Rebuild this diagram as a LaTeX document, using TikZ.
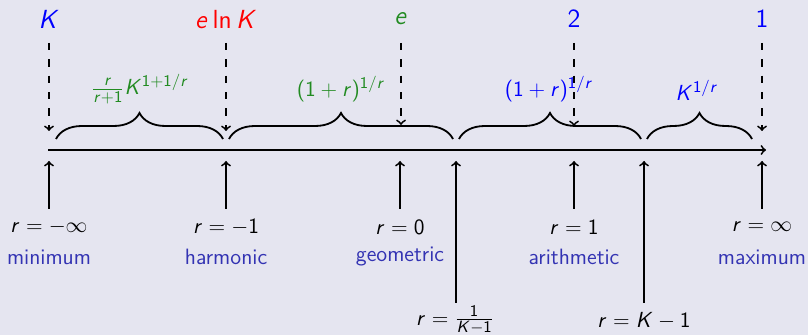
\documentclass[tikz,border=0pt]{standalone}
\usetikzlibrary{decorations.pathreplacing}
\DeclareSymbolFont{sfit}{OT1}{cmss}{m}{sl}
\SetSymbolFont{operators}{normal}{OT1}{cmss}{m}{n}
\DeclareMathSymbol{r}{\mathalpha}{sfit}{`r}
\DeclareMathSymbol{K}{\mathalpha}{sfit}{`K}
\DeclareMathSymbol{e}{\mathalpha}{sfit}{`e}
\definecolor{bgcol}{RGB}{229,229,240}
\definecolor{fgreen}{RGB}{34,139,34}
\definecolor{structcol}{RGB}{51,51,179}
\begin{document}
\begin{tikzpicture}[x=0.55pt,y=-0.55pt,
  every node/.style={font=\sffamily},
  axisline/.style={line width=1pt,->},
  dasharrow/.style={line width=1pt,dash pattern=on 4pt off 5pt,->},
  bracepath/.style={line width=1pt,decorate,decoration={brace,amplitude=14.3pt}},
  toplabel/.style={font=\sffamily\fontsize{14.4}{17}\selectfont},
  bracelabel/.style={font=\sffamily\fontsize{13}{15}\selectfont},
  rlabel/.style={font=\sffamily\fontsize{12.2}{14}\selectfont},
  meanlabel/.style={font=\sffamily\fontsize{12.2}{14}\selectfont,text=structcol}]
\fill[bgcol] (0,0) rectangle (808,335);
\useasboundingbox (0,0) rectangle (808,335);

% top labels
\node[toplabel,text=blue]   (tK)  at (49,19)  {$K$};
\node[toplabel,text=red]    (tL)  at (226,19) {$e\ln K$};
\node[toplabel,text=fgreen] (tE)  at (401,19) {$e$};
\node[toplabel,text=blue]   (t2)  at (574,19) {$2$};
\node[toplabel,text=blue]   (t1)  at (762,19) {$1$};

\coordinate (dtop) at (0,43);
\coordinate (eK) at (49,131);
\coordinate (eL) at (226,131);
\coordinate (eE) at (401,125);
\coordinate (e2) at (574,126);
\coordinate (e1) at (762,131);
\draw[dasharrow] (tK |- dtop) -- (eK);
\draw[dasharrow] (tL |- dtop) -- (eL);
\draw[dasharrow] (tE |- dtop) -- (eE);
\draw[dasharrow] (t2 |- dtop) -- (e2);
\draw[dasharrow] (t1 |- dtop) -- (e1);

% axis
\coordinate (ax0) at (48,150);
\coordinate (ax1) at (766,150);
\draw[axisline] (ax0) -- (ax1);

% braces
\coordinate (b1a) at (56,139);  \coordinate (b1b) at (223,139);
\coordinate (b2a) at (229,139); \coordinate (b2b) at (453,139);
\coordinate (b3a) at (459,139); \coordinate (b3b) at (641,139);
\coordinate (b4a) at (647,139); \coordinate (b4b) at (752,139);
\draw[bracepath] (b1a) -- (b1b);
\draw[bracepath] (b2a) -- (b2b);
\draw[bracepath] (b3a) -- (b3b);
\draw[bracepath] (b4a) -- (b4b);
\node[bracelabel,text=fgreen] (l1) at (140,89) {$\frac{r}{r+1}K^{1+1/r}$};
\node[bracelabel,text=fgreen] (l2) at (341,89) {$(1+r)^{1/r}$};
\node[bracelabel,text=blue]   (l3) at (549,89) {$(1+r)^{1/r}$};
\node[bracelabel,text=blue]   (l4) at (697,90) {$K^{1/r}$};

% bottom labels
\node[rlabel] (rA) at (49,227)  {$r=-\infty$};
\node[rlabel] (rB) at (226,227) {$r=-1$};
\node[rlabel] (rC) at (400,227) {$r=0$};
\node[rlabel] (rD) at (455,320) {$r=\frac{1}{K-1}$};
\node[rlabel] (rE) at (574,227) {$r=1$};
\node[rlabel] (rF) at (644,321) {$r=K-1$};
\node[rlabel] (rG) at (762,227) {$r=\infty$};
\node[meanlabel] (mA) at (49,257)  {minimum};
\node[meanlabel] (mB) at (226,257) {harmonic};
\node[meanlabel] (mC) at (400,257) {geometric};
\node[meanlabel] (mE) at (574,257) {arithmetic};
\node[meanlabel] (mG) at (762,257) {maximum};

\coordinate (utip) at (0,161);
\coordinate (ushort) at (0,209);
\coordinate (ulong) at (0,303);
\coordinate (xD) at (456,0);
\draw[axisline] (rA |- ushort) -- (rA |- utip);
\draw[axisline] (rB |- ushort) -- (rB |- utip);
\draw[axisline] (rC |- ushort) -- (rC |- utip);
\draw[axisline] (rE |- ushort) -- (rE |- utip);
\draw[axisline] (rG |- ushort) -- (rG |- utip);
\draw[axisline] (xD |- ulong) -- (xD |- utip);
\draw[axisline] (rF |- ulong) -- (rF |- utip);
\end{tikzpicture}
\end{document}
